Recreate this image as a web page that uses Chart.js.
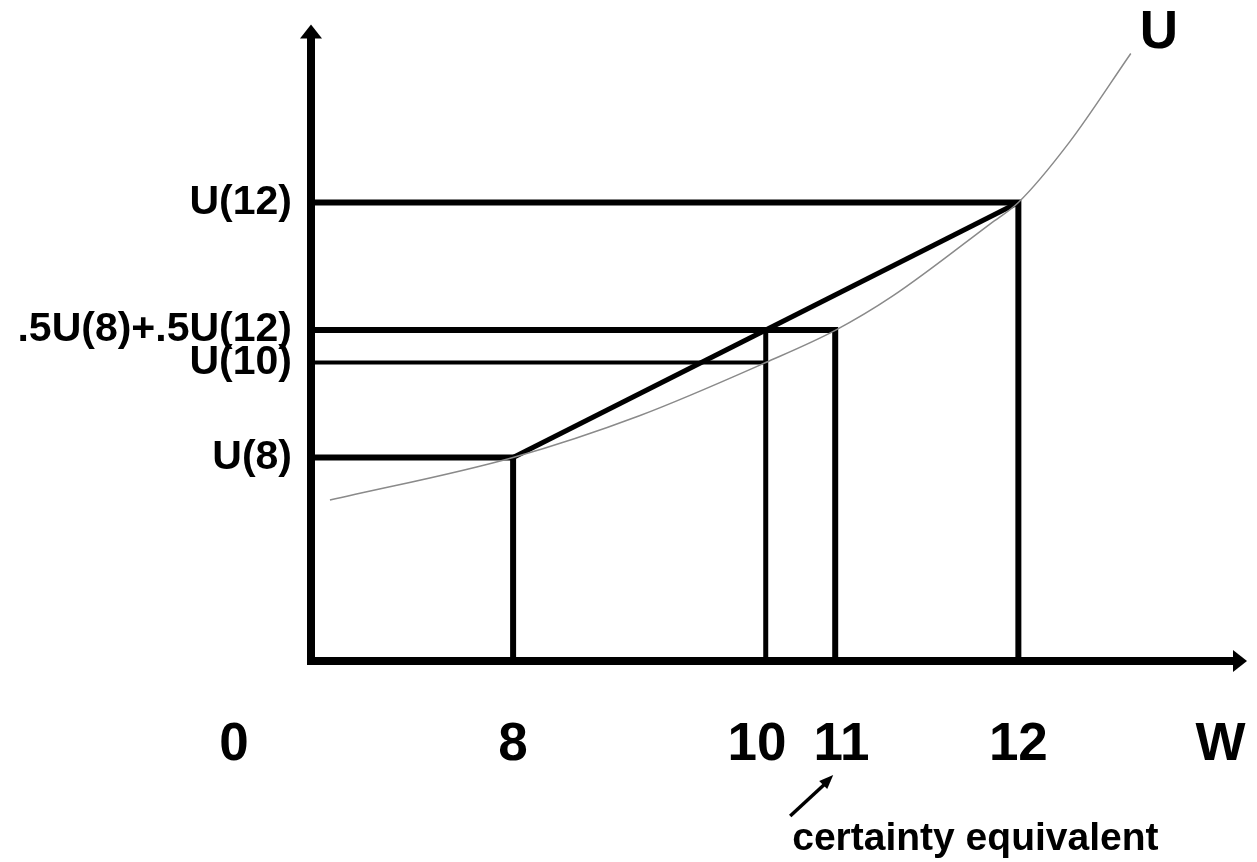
<!DOCTYPE html>
<html>
<head>
<meta charset="utf-8">
<script src="https://cdn.jsdelivr.net/npm/chart.js@4.4.1/dist/chart.umd.min.js"></script>
<style>
  body { margin: 0; background: #fff; }
  canvas { display: block; }
</style>
</head>
<body>
<canvas id="utility_chart" width="1257" height="862"></canvas>
<script>
// wealth values marked on the W axis
const wealthPoints = [8, 10, 12];
const certaintyEq = 10.55;           // where the 11 line sits on the drawing
const xTickVals = [8, 9.93, 10.6, 12, 13.6];
const xTickLabels = ["8", "10", "11", "12", "W"];

// utility levels
const u8 = 4.44;
const u10 = 6.51;
const u12 = 10;
const uExpected = 7.22;
const yTickVals = [u8, u10, uExpected, u12];
const yTickLabels = ["U(8)", "U(10)", ".5U(8)+.5U(12)", "U(12)"];

// the utility curve
const curveW = [6.55, 8, 9, 10, 10.55, 11, 11.78, 12, 12.4, 12.89];
const curveU = [3.51, 4.44, 5.35, 6.51, 7.21, 7.95, 9.54, 10, 11.3, 13.25];

const X_MIN = 6.4, X_MAX = 13.81, Y_MIN = 0, Y_MAX = 13.88;
const FONT = "'Liberation Sans', Arial, sans-serif";

function seg(points, width) {
  return {
    data: points.map(p => ({x: p[0], y: p[1]})),
    borderColor: "#000",
    borderWidth: width,
    borderJoinStyle: "miter",
    pointRadius: 0,
    tension: 0,
    fill: false
  };
}

const datasets = [
  {
    data: curveW.map((w, i) => ({x: w, y: curveU[i]})),
    borderColor: "#8a8a8a",
    borderWidth: 1.5,
    pointRadius: 0,
    cubicInterpolationMode: "monotone",
    fill: false
  },
  seg([[X_MIN, u12], [wealthPoints[2], u12], [wealthPoints[2], 0]], 6),
  seg([[X_MIN, u8], [wealthPoints[0], u8], [wealthPoints[0], 0]], 6),
  seg([[X_MIN, uExpected], [certaintyEq, uExpected], [certaintyEq, 0]], 6),
  seg([[X_MIN, u10], [wealthPoints[1], u10]], 4),
  seg([[wealthPoints[1], uExpected], [wealthPoints[1], 0]], 5),
  seg([[wealthPoints[0], u8], [wealthPoints[2], u12]], 5)
];

const xTickLen = 53;
const xFontSize = 53;

const annotate = {
  id: "annotate",
  afterDraw(chart) {
    const ctx = chart.ctx;
    const a = chart.chartArea;
    const xs = chart.scales.x, ys = chart.scales.y;
    ctx.save();
    ctx.fillStyle = "#000";
    ctx.strokeStyle = "#000";

    // axes with arrow heads
    ctx.lineWidth = 8;
    ctx.lineCap = "butt";
    ctx.beginPath();
    ctx.moveTo(a.left, a.bottom + 4);
    ctx.lineTo(a.left, a.top + 12);
    ctx.moveTo(a.left - 4, a.bottom);
    ctx.lineTo(a.right - 12, a.bottom);
    ctx.stroke();
    ctx.beginPath();
    ctx.moveTo(a.left, a.top);
    ctx.lineTo(a.left - 11, a.top + 14);
    ctx.lineTo(a.left + 11, a.top + 14);
    ctx.closePath();
    ctx.fill();
    ctx.beginPath();
    ctx.moveTo(a.right, a.bottom);
    ctx.lineTo(a.right - 14, a.bottom - 11);
    ctx.lineTo(a.right - 14, a.bottom + 11);
    ctx.closePath();
    ctx.fill();

    // "0" under the origin
    ctx.font = "bold " + xFontSize + "px " + FONT;
    ctx.textAlign = "center";
    ctx.textBaseline = "middle";
    ctx.fillText("0", a.left - 77, a.bottom + xTickLen + xFontSize * 0.6);

    // curve label
    const endX = xs.getPixelForValue(curveW[curveW.length - 1]);
    const endY = ys.getPixelForValue(curveU[curveU.length - 1]);
    ctx.font = "bold 53px " + FONT;
    ctx.fillText("U", endX + 28, endY - 20);

    // certainty equivalent note
    const ceX = xs.getPixelForValue(certaintyEq);
    ctx.font = "bold 39px " + FONT;
    ctx.textAlign = "left";
    ctx.fillText("certainty equivalent", ceX - 43, 839);
    ctx.lineWidth = 3.5;
    ctx.beginPath();
    ctx.moveTo(ceX - 45, 816);
    ctx.lineTo(ceX - 6, 780);
    ctx.stroke();
    ctx.beginPath();
    ctx.moveTo(ceX - 2, 775);
    ctx.lineTo(ceX - 16, 781);
    ctx.lineTo(ceX - 8, 789);
    ctx.closePath();
    ctx.fill();
    ctx.restore();
  }
};

new Chart("utility_chart", {
  type: "line",
  data: { datasets: datasets },
  options: {
    responsive: false,
    animation: false,
    layout: { padding: { top: 24, right: 10, left: 0, bottom: 0 } },
    plugins: { legend: { display: false }, tooltip: { enabled: false } },
    scales: {
      x: {
        type: "linear",
        min: X_MIN,
        max: X_MAX,
        afterBuildTicks: (scale) => { scale.ticks = xTickVals.map(v => ({value: v})); },
        afterFit: (scale) => { scale.height = 862 - 661; },
        border: { display: false },
        grid: { display: true, drawOnChartArea: false, drawTicks: true, tickLength: xTickLen, tickColor: "transparent" },
        ticks: {
          autoSkip: false,
          maxRotation: 0,
          padding: 0,
          color: "#000",
          font: { family: FONT, size: xFontSize, weight: "bold" },
          callback: (v, i) => xTickLabels[i]
        }
      },
      y: {
        type: "linear",
        min: Y_MIN,
        max: Y_MAX,
        afterBuildTicks: (scale) => { scale.ticks = yTickVals.map(v => ({value: v})); },
        afterFit: (scale) => { scale.width = 311; },
        border: { display: false },
        grid: { display: true, drawOnChartArea: false, drawTicks: true, tickLength: 19, tickColor: "transparent" },
        ticks: {
          autoSkip: false,
          padding: 0,
          color: "#000",
          font: { family: FONT, size: 41, weight: "bold" },
          callback: (v, i) => yTickLabels[i]
        }
      }
    }
  },
  plugins: [annotate]
});
</script>
</body>
</html>
